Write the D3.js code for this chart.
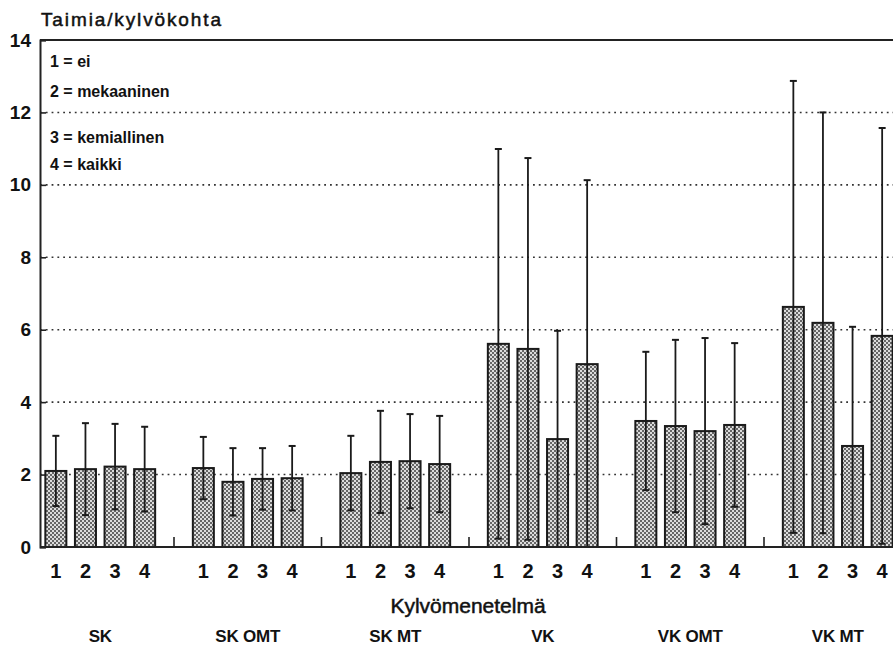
<!DOCTYPE html>
<html>
<head>
<meta charset="utf-8">
<script src="https://cdn.jsdelivr.net/npm/d3@7"></script>
<style>
  html, body { margin: 0; padding: 0; background: #fff; }
  svg { display: block; font-family: "Liberation Sans", Arial, Helvetica, sans-serif; }
</style>
</head>
<body>
<svg id="chart" width="893" height="645"></svg>
<script>
// ---- data ----
const groups = ["SK", "SK OMT", "SK MT", "VK", "VK OMT", "VK MT"];
const methods = ["1", "2", "3", "4"];
const legendLabels = ["1 = ei", "2 = mekaaninen", "3 = kemiallinen", "4 = kaikki"];
const yTicks = [0, 2, 4, 6, 8, 10, 12, 14];

// mean seedlings per sowing spot, per method, across groups
const meanEi          = [2.10, 2.18, 2.04, 5.61, 3.48, 6.63];
const meanMekaaninen  = [2.15, 1.80, 2.35, 5.47, 3.34, 6.19];
const meanKemiallinen = [2.22, 1.88, 2.37, 2.98, 3.20, 2.79];
const meanKaikki      = [2.15, 1.90, 2.29, 5.05, 3.37, 5.83];
// standard deviations (error bars)
const sdEi          = [0.97, 0.86, 1.03, 5.38, 1.91, 6.24];
const sdMekaaninen  = [1.27, 0.93, 1.41, 5.27, 2.38, 5.81];
const sdKemiallinen = [1.18, 0.85, 1.30, 2.99, 2.57, 3.29];
const sdKaikki      = [1.17, 0.89, 1.33, 5.08, 2.26, 5.74];

const meansByMethod = [meanEi, meanMekaaninen, meanKemiallinen, meanKaikki];
const sdByMethod = [sdEi, sdMekaaninen, sdKemiallinen, sdKaikki];

const rows = [];
groups.forEach((g, gi) => {
  methods.forEach((m, mi) => {
    rows.push({ group: g, method: m, mean: meansByMethod[mi][gi], sd: sdByMethod[mi][gi] });
  });
});

// ---- layout ----
const axisX = 40, plotTop = 40, plotBottom = 547, plotRight = 893;
const svg = d3.select("#chart");

const y = d3.scaleLinear().domain([0, 14]).range([plotBottom, plotTop]);
const xGroup = d3.scaleBand().domain(groups).range([26.5, 911.5]).padding(0);
const halfSpan = 59.2;
const xBar = d3.scaleBand().domain(methods).range([-halfSpan, halfSpan])
  .paddingInner(0.29).paddingOuter(0.145);
const barCenter = d => xGroup(d.group) + xGroup.bandwidth() / 2 + xBar(d.method) + xBar.bandwidth() / 2;

// pattern for stippled bars
const defs = svg.append("defs");
const pat = defs.append("pattern").attr("id", "stipple")
  .attr("patternUnits", "userSpaceOnUse").attr("width", 4).attr("height", 4);
pat.append("rect").attr("width", 4).attr("height", 4).attr("fill", "#dcdcdc");
pat.append("rect").attr("x", 0).attr("y", 0).attr("width", 2).attr("height", 2).attr("fill", "#666");
pat.append("rect").attr("x", 2).attr("y", 2).attr("width", 2).attr("height", 2).attr("fill", "#666");

// gridlines (dotted)
svg.append("g").selectAll("line")
  .data(yTicks.filter(v => v > 0 && v < 14))
  .join("line")
  .attr("x1", axisX).attr("x2", plotRight)
  .attr("y1", d => y(d)).attr("y2", d => y(d))
  .attr("stroke", "#333").attr("stroke-width", 1.6)
  .attr("stroke-dasharray", "1.8,4");

// top frame
svg.append("line").attr("x1", axisX).attr("x2", plotRight)
  .attr("y1", y(14)).attr("y2", y(14))
  .attr("stroke", "#222").attr("stroke-width", 2);

// y axis
const yAxis = svg.append("g").attr("transform", `translate(${axisX},0)`)
  .call(d3.axisLeft(y).tickValues(yTicks).tickSize(-6).tickPadding(9).tickFormat(d3.format("d")));
yAxis.select(".domain").attr("stroke", "#222").attr("stroke-width", 2);
yAxis.selectAll(".tick line").attr("stroke", "#222").attr("stroke-width", 1.6);
yAxis.selectAll(".tick text")
  .attr("font-size", 19).attr("font-weight", "bold").attr("fill", "#111")
  .attr("font-family", "'Liberation Sans', Arial, sans-serif");

// bars
svg.append("g").selectAll("rect")
  .data(rows)
  .join("rect")
  .attr("x", d => barCenter(d) - xBar.bandwidth() / 2)
  .attr("width", xBar.bandwidth())
  .attr("y", d => y(d.mean))
  .attr("height", d => y(0) - y(d.mean))
  .attr("fill", "url(#stipple)")
  .attr("stroke", "#1a1a1a").attr("stroke-width", 2);

// error bars
const eb = svg.append("g").attr("stroke", "#1a1a1a");
eb.selectAll("line.v")
  .data(rows).join("line").attr("class", "v")
  .attr("x1", barCenter).attr("x2", barCenter)
  .attr("y1", d => y(Math.max(0, d.mean - d.sd)))
  .attr("y2", d => y(d.mean + d.sd))
  .attr("stroke-width", 1.8);
eb.selectAll("line.capTop")
  .data(rows).join("line").attr("class", "capTop")
  .attr("x1", d => barCenter(d) - 3.5).attr("x2", d => barCenter(d) + 3.5)
  .attr("y1", d => y(d.mean + d.sd)).attr("y2", d => y(d.mean + d.sd))
  .attr("stroke-width", 2);
eb.selectAll("line.capBot")
  .data(rows.filter(d => d.mean - d.sd > 0.05)).join("line").attr("class", "capBot")
  .attr("x1", d => barCenter(d) - 3.5).attr("x2", d => barCenter(d) + 3.5)
  .attr("y1", d => y(d.mean - d.sd)).attr("y2", d => y(d.mean - d.sd))
  .attr("stroke-width", 2);

// x axis baseline
svg.append("line").attr("x1", axisX).attr("x2", plotRight)
  .attr("y1", y(0)).attr("y2", y(0))
  .attr("stroke", "#222").attr("stroke-width", 2);

// separators between groups (upward ticks)
svg.append("g").selectAll("line")
  .data(groups.slice(1))
  .join("line")
  .attr("x1", d => xGroup(d)).attr("x2", d => xGroup(d))
  .attr("y1", y(0)).attr("y2", y(0) - 10)
  .attr("stroke", "#222").attr("stroke-width", 1.6);

// method tick labels per group
groups.forEach(g => {
  const ax = svg.append("g")
    .attr("transform", `translate(${xGroup(g) + xGroup.bandwidth() / 2},${plotBottom})`)
    .call(d3.axisBottom(xBar).tickSize(0).tickPadding(17));
  ax.select(".domain").remove();
  ax.selectAll(".tick text")
    .attr("font-size", 20).attr("font-weight", "bold").attr("fill", "#111")
    .attr("font-family", "'Liberation Sans', Arial, sans-serif");
});

// group labels
svg.append("g").selectAll("text")
  .data(groups)
  .join("text")
  .attr("x", d => xGroup(d) + xGroup.bandwidth() / 2)
  .attr("y", 642)
  .attr("text-anchor", "middle")
  .attr("font-size", 17).attr("font-weight", "bold").attr("fill", "#111")
  .attr("letter-spacing", "-0.2")
  .text(d => d);

// axis titles
svg.append("text")
  .attr("x", 468).attr("y", 613)
  .attr("text-anchor", "middle")
  .attr("font-size", 21).attr("fill", "#111")
  .attr("stroke", "#111").attr("stroke-width", 0.5)
  .text("Kylvömenetelmä");

svg.append("text")
  .attr("x", 41).attr("y", 26)
  .attr("font-size", 19).attr("fill", "#111")
  .attr("stroke", "#111").attr("stroke-width", 0.5)
  .attr("textLength", 180).attr("lengthAdjust", "spacing")
  .text("Taimia/kylvökohta");

// legend
const legendY = [67, 97, 143, 170];
svg.append("g").selectAll("text")
  .data(legendLabels)
  .join("text")
  .attr("x", 50)
  .attr("y", (d, i) => legendY[i])
  .attr("font-size", 16).attr("font-weight", "bold").attr("fill", "#111")
  .text(d => d);
</script>
</body>
</html>
